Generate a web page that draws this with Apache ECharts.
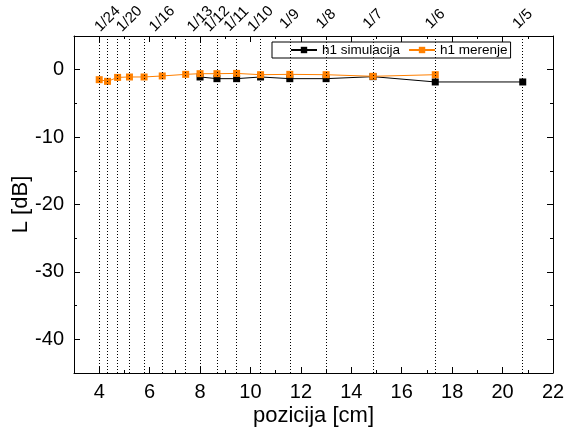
<!DOCTYPE html>
<html>
<head>
<meta charset="utf-8">
<script src="https://cdn.jsdelivr.net/npm/echarts@6/dist/echarts.min.js"></script>
<style>
html,body{margin:0;padding:0;background:#fff;}
#c{width:569px;height:427px;}
</style>
</head>
<body>
<div id="c"></div>
<script>
// Positions (cm) of the vertical dotted guide lines
var guideLines = [4.0, 4.33, 4.73, 5.2, 5.78, 6.5, 7.43, 8.0, 8.67, 9.45, 10.4, 11.56, 13.0, 14.86, 17.33, 20.8];
// Top fraction labels and their positions
var topLabelPos = [4.33, 5.2, 6.5, 8.0, 8.67, 9.45, 10.4, 11.56, 13.0, 14.86, 17.33, 20.8];
var topLabels = ['1/24', '1/20', '1/16', '1/13', '1/12', '1/11', '1/10', '1/9', '1/8', '1/7', '1/6', '1/5'];

// Series: h1 simulacija
var simX = [8.0, 8.67, 9.45, 10.4, 11.56, 13.0, 14.86, 17.33, 20.8];
var simY = [-1.08, -1.33, -1.33, -1.08, -1.33, -1.33, -1.03, -1.82, -1.82];
// Series: h1 merenje
var merX = [4.0, 4.33, 4.73, 5.2, 5.78, 6.5, 7.43, 8.0, 8.67, 9.45, 10.4, 11.56, 13.0, 14.86, 17.33];
var merY = [-1.48, -1.73, -1.14, -1.08, -1.08, -0.93, -0.69, -0.59, -0.59, -0.55, -0.74, -0.69, -0.74, -0.98, -0.74];

// Axis ticks
var xMajor = [4, 6, 8, 10, 12, 14, 16, 18, 20, 22];
var xMinor = [3, 5, 7, 9, 11, 13, 15, 17, 19, 21];
var yMajor = [-40, -30, -20, -10, 0];
var yMinor = [-35, -25, -15, -5];

function zip(a, b) { return a.map(function (v, i) { return [v, b[i]]; }); }

var FONT = "'Liberation Sans', Arial, sans-serif";
var X_MIN = 3, X_MAX = 22, Y_MIN = -45, Y_MAX = 5;

function xAx(pos, ticks, len, showLine, label) {
  return {
    type: 'value', position: pos, min: X_MIN, max: X_MAX,
    axisLine: { show: showLine, onZero: false, lineStyle: { color: '#000', width: 1 } },
    axisTick: { show: ticks != null, inside: true, length: len, customValues: ticks || [], lineStyle: { color: '#000' } },
    axisLabel: label || { show: false },
    splitLine: { show: false }
  };
}
function yAx(pos, ticks, len, showLine, label) {
  return {
    type: 'value', position: pos, min: Y_MIN, max: Y_MAX,
    axisLine: { show: showLine, onZero: false, lineStyle: { color: '#000', width: 1 } },
    axisTick: { show: ticks != null, inside: true, length: len, customValues: ticks || [], lineStyle: { color: '#000' } },
    axisLabel: label || { show: false },
    splitLine: { show: false }
  };
}

var xAxes = [
  xAx('bottom', xMajor, 6, true, { show: true, customValues: xMajor, margin: 9, color: '#000', fontSize: 20, fontFamily: FONT }),
  xAx('bottom', xMinor, 3, false),
  xAx('top', xMajor, 6, true),
  xAx('top', xMinor, 3, false),
  xAx('top', null, 0, false, {
    show: true, customValues: topLabelPos, rotate: -45, margin: 17,
    align: 'center', verticalAlign: 'middle',
    color: '#000', fontSize: 15, fontFamily: FONT,
    formatter: function (v) {
      for (var i = 0; i < topLabelPos.length; i++) if (Math.abs(topLabelPos[i] - v) < 1e-6) return topLabels[i];
      return '';
    }
  })
];
xAxes[0].name = 'pozicija [cm]';
xAxes[0].nameLocation = 'middle';
xAxes[0].nameGap = 32;
xAxes[0].nameMoveOverlap = false;
xAxes[0].nameTextStyle = { color: '#000', fontSize: 22, fontFamily: FONT };

var yAxes = [
  yAx('left', yMajor, 6, true, { show: true, customValues: yMajor, margin: 10, color: '#000', fontSize: 20, fontFamily: FONT }),
  yAx('left', yMinor, 3, false),
  yAx('right', yMajor, 6, true),
  yAx('right', yMinor, 3, false)
];
yAxes[0].name = 'L [dB]';
yAxes[0].nameLocation = 'middle';
yAxes[0].nameGap = 42;
yAxes[0].nameMoveOverlap = false;
yAxes[0].nameTextStyle = { color: '#000', fontSize: 22, fontFamily: FONT };

var chart = echarts.init(document.getElementById('c'), null, { renderer: 'canvas' });
chart.setOption({
  animation: false,
  backgroundColor: '#fff',
  grid: { left: 74, right: 16, top: 36, bottom: 54, containLabel: false, outerBoundsMode: 'none' },
  xAxis: xAxes,
  yAxis: yAxes,
  legend: {
    left: 272, top: 42,
    padding: [1, 3, 1, 18],
    borderColor: '#000', borderWidth: 1,
    backgroundColor: '#fff',
    itemWidth: 26, itemHeight: 8, itemGap: 8,
    textStyle: { color: '#000', fontSize: 13.5, fontFamily: FONT },
    data: ['h1 simulacija', 'h1 merenje']
  },
  series: [
    {
      name: 'h1 simulacija', type: 'line', xAxisIndex: 0, yAxisIndex: 0,
      data: zip(simX, simY),
      symbol: 'rect', symbolSize: 7,
      itemStyle: { color: '#000' },
      lineStyle: { color: '#000', width: 1 },
      markLine: {
        silent: true, symbol: ['none', 'none'], label: { show: false },
        lineStyle: { color: '#000', width: 1, type: [1, 2] },
        data: guideLines.map(function (v) { return { xAxis: v }; })
      },
      z: 2
    },
    {
      name: 'h1 merenje', type: 'line', xAxisIndex: 0, yAxisIndex: 0,
      data: zip(merX, merY),
      symbol: 'rect', symbolSize: 7,
      itemStyle: { color: '#ff8000' },
      lineStyle: { color: '#ff8000', width: 1 },
      z: 3
    }
  ]
});
</script>
</body>
</html>
